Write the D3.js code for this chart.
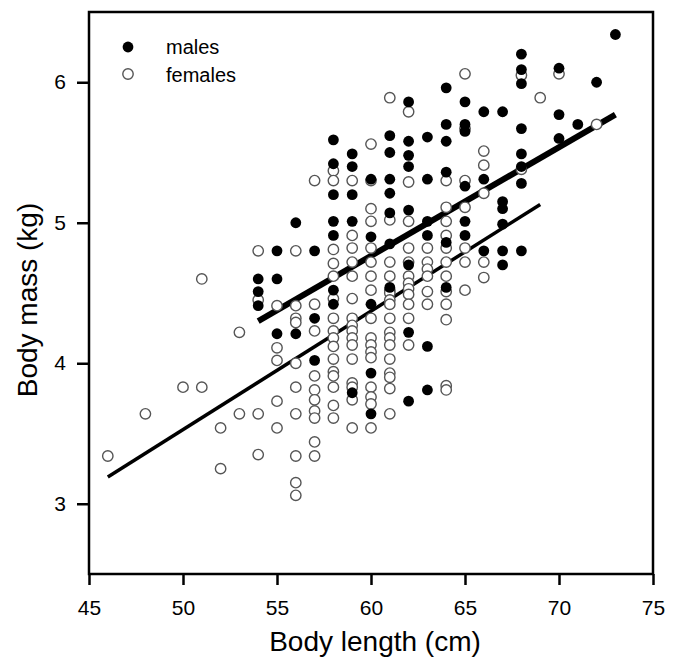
<!DOCTYPE html>
<html>
<head>
<meta charset="utf-8">
<script src="https://cdn.jsdelivr.net/npm/d3@7"></script>
<style>
  body { margin: 0; background: #fff; }
  svg { display: block; font-family: "Liberation Sans", Arial, sans-serif; }
</style>
</head>
<body>
<svg width="674" height="660"></svg>
<script>
// body length (cm) -> list of body masses (kg)
var maleLength = [54, 55, 56, 57, 58, 59, 60, 61, 62, 63, 64, 65, 66, 67, 68, 70, 71, 72, 73];
var maleMass = [
  [4.60, 4.51, 4.41],
  [4.80, 4.60, 4.21],
  [5.00, 4.21],
  [4.80, 4.32, 4.02],
  [5.59, 5.42, 5.20, 5.01, 4.91, 4.52, 4.42],
  [5.49, 5.40, 5.20, 5.01, 3.79],
  [5.31, 4.90, 4.42, 3.93, 3.64],
  [5.62, 5.50, 5.31, 5.21, 5.07, 4.85, 4.54],
  [5.86, 5.58, 5.48, 5.40, 5.09, 4.70, 4.22, 3.73],
  [5.61, 5.31, 5.01, 4.91, 4.12, 3.81],
  [5.96, 5.70, 5.58, 5.36, 4.86, 4.54],
  [5.86, 5.70, 5.65, 5.26, 5.01, 4.91],
  [5.79, 5.31, 4.80],
  [5.79, 5.15, 5.10, 4.99, 4.80, 4.70],
  [6.20, 6.09, 5.99, 5.67, 5.49, 5.40, 5.28, 4.80],
  [6.10, 5.77, 5.60],
  [5.70],
  [6.00],
  [6.34]
];

var femaleLength = [46, 48, 50, 51, 52, 53, 54, 55, 56, 57, 58, 59, 60, 61, 62, 63, 64, 65, 66, 68, 69, 70, 72];
var femaleMass = [
  [3.34],
  [3.64],
  [3.83],
  [4.60, 3.83],
  [3.54, 3.25],
  [4.22, 3.64],
  [4.80, 4.45, 3.64, 3.35],
  [4.41, 4.11, 4.02, 3.73, 3.54],
  [4.80, 4.41, 4.32, 4.29, 4.00, 3.83, 3.64, 3.34, 3.15, 3.06],
  [5.30, 4.42, 4.23, 3.91, 3.81, 3.74, 3.66, 3.61, 3.44, 3.34],
  [5.37, 5.30, 4.81, 4.71, 4.62, 4.46, 4.32, 4.23, 4.18, 4.12, 4.03, 3.94, 3.91, 3.83, 3.70, 3.61],
  [5.30, 4.91, 4.82, 4.72, 4.62, 4.46, 4.32, 4.27, 4.23, 4.18, 4.13, 4.03, 3.86, 3.83, 3.74, 3.54],
  [5.56, 5.30, 5.10, 5.01, 4.82, 4.72, 4.62, 4.52, 4.32, 4.18, 4.13, 4.08, 4.04, 3.83, 3.76, 3.71, 3.54],
  [5.89, 5.02, 4.72, 4.62, 4.52, 4.50, 4.45, 4.42, 4.32, 4.22, 4.18, 4.13, 4.03, 3.93, 3.90, 3.82, 3.64],
  [5.79, 5.29, 5.01, 4.82, 4.72, 4.62, 4.57, 4.53, 4.49, 4.42, 4.32, 4.13],
  [4.82, 4.72, 4.67, 4.62, 4.51, 4.42],
  [5.30, 5.11, 5.01, 4.91, 4.82, 4.72, 4.62, 4.51, 4.42, 4.31, 3.84, 3.81],
  [6.06, 5.67, 5.30, 5.11, 4.82, 4.72, 4.52],
  [5.51, 5.41, 5.21, 4.72, 4.61],
  [6.05, 5.38],
  [5.89],
  [6.06],
  [5.70]
];

// fitted regression lines, end points [length, mass]
var maleFit = [[54, 4.30], [73, 5.77]];
var femaleFit = [[46, 3.19], [69, 5.13]];

var xTicks = [45, 50, 55, 60, 65, 70, 75];
var yTicks = [3, 4, 5, 6];

var svg = d3.select("svg");
var plotLeft = 89, plotRight = 653, plotTop = 12, plotBottom = 574;

var x = d3.scaleLinear().domain([45, 75]).range([plotLeft, plotRight]);
var y = d3.scaleLinear().domain([2.5, 6.5]).range([plotBottom, plotTop]);

function flatten(lengths, masses) {
  var out = [];
  lengths.forEach(function(l, i) {
    masses[i].forEach(function(m) { out.push([l, m]); });
  });
  return out;
}
var males = flatten(maleLength, maleMass);
var females = flatten(femaleLength, femaleMass);

// axes
var xAxis = svg.append("g")
  .attr("transform", "translate(0," + plotBottom + ")")
  .call(d3.axisBottom(x).tickValues(xTicks).tickFormat(d3.format("d")).tickSize(11).tickPadding(15));
var yAxis = svg.append("g")
  .attr("transform", "translate(" + plotLeft + ",0)")
  .call(d3.axisLeft(y).tickValues(yTicks).tickFormat(d3.format("d")).tickSize(12).tickPadding(11));

[xAxis, yAxis].forEach(function(a) {
  a.select(".domain").remove();
  a.selectAll(".tick line").attr("stroke", "#000").attr("stroke-width", 2.5);
  a.selectAll(".tick text")
    .attr("fill", "#000")
    .style("font-family", "Liberation Sans, Arial, sans-serif")
    .style("font-size", "21px");
});

svg.append("rect")
  .attr("x", plotLeft).attr("y", plotTop)
  .attr("width", plotRight - plotLeft).attr("height", plotBottom - plotTop)
  .attr("fill", "none").attr("stroke", "#000").attr("stroke-width", 2.5);

// regression lines
var line = d3.line().x(function(d) { return x(d[0]); }).y(function(d) { return y(d[1]); });
svg.append("path").datum(maleFit).attr("d", line)
  .attr("stroke", "#000").attr("stroke-width", 6).attr("fill", "none");
svg.append("path").datum(femaleFit).attr("d", line)
  .attr("stroke", "#000").attr("stroke-width", 3.5).attr("fill", "none");

// points
svg.append("g").selectAll("circle")
  .data(females)
  .enter().append("circle")
  .attr("cx", function(d) { return x(d[0]); })
  .attr("cy", function(d) { return y(d[1]); })
  .attr("r", 5.2)
  .attr("fill", "#fff")
  .attr("stroke", "#555")
  .attr("stroke-width", 1.4);

svg.append("g").selectAll("circle")
  .data(males)
  .enter().append("circle")
  .attr("cx", function(d) { return x(d[0]); })
  .attr("cy", function(d) { return y(d[1]); })
  .attr("r", 5.4)
  .attr("fill", "#000");

// legend
svg.append("circle").attr("cx", 128).attr("cy", 47).attr("r", 5.4).attr("fill", "#000");
svg.append("circle").attr("cx", 128).attr("cy", 74).attr("r", 5.2)
  .attr("fill", "#fff").attr("stroke", "#555").attr("stroke-width", 1.4);
svg.append("text").attr("x", 166).attr("y", 54).style("font-size", "20px").text("males");
svg.append("text").attr("x", 166).attr("y", 82).style("font-size", "20px").text("females");

// axis titles
svg.append("text")
  .attr("x", 375).attr("y", 651)
  .attr("text-anchor", "middle")
  .style("font-size", "28px")
  .text("Body length (cm)");
svg.append("text")
  .attr("transform", "translate(37,300) rotate(-90)")
  .attr("text-anchor", "middle")
  .style("font-size", "28px")
  .text("Body mass (kg)");
</script>
</body>
</html>
